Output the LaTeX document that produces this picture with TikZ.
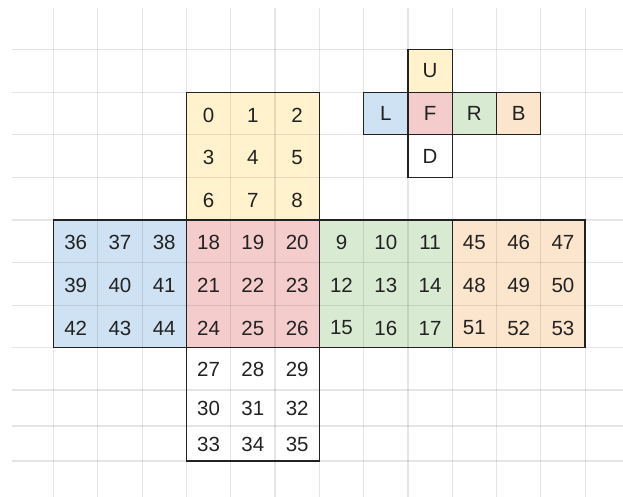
\documentclass[tikz,border=0pt]{standalone}
\usepackage{fontspec}
\setmainfont{Liberation Sans}
\definecolor{cyel}{HTML}{FFF2CC}
\definecolor{cblu}{HTML}{CFE2F3}
\definecolor{cred}{HTML}{F4CCCC}
\definecolor{cgrn}{HTML}{D9EAD3}
\definecolor{cora}{HTML}{FCE5CD}
\definecolor{ctxt}{HTML}{222222}
\tikzset{
  gridline/.style={draw=black, draw opacity=0.1, line width=1.2pt},
  faceborder/.style={draw=ctxt, line width=1.3pt},
  lab/.style={text=ctxt, font=\fontsize{20.5}{21}\selectfont, inner sep=0pt, anchor=center},
}
\begin{document}
\begin{tikzpicture}[x=1pt,y=-1pt]
\useasboundingbox (0,0) rectangle (623,497);
\fill[white] (0,0) rectangle (623,497);
% column edges: 53.5 + 44.3*k
% face fills
\fill[cyel] (186.4,92.2) rectangle (319.3,220);
\fill[cblu] (53.5,220) rectangle (186.4,347.8);
\fill[cred] (186.4,220) rectangle (319.3,347.8);
\fill[cgrn] (319.3,220) rectangle (452.2,347.8);
\fill[cora] (452.2,220) rectangle (585.1,347.8);
% small cross fills
\fill[cyel] (407.9,49.5) rectangle (452.2,92.2);
\fill[cblu] (363.6,92.2) rectangle (407.9,134.8);
\fill[cred] (407.9,92.2) rectangle (452.2,134.8);
\fill[cgrn] (452.2,92.2) rectangle (496.5,134.8);
\fill[cora] (496.5,92.2) rectangle (540.8,134.8);
% grid
\foreach \i in {0,...,12} \draw[gridline] ({53.5+44.3*\i},8) -- ({53.5+44.3*\i},497);
\foreach \y in {49.5,92.2,134.8,177.4,220,262.6,305.2,347.8,390,426,461} \draw[gridline] (12,\y) -- (623,\y);
% face borders
\draw[faceborder] (186.4,92.2) rectangle (319.3,220);
\draw[faceborder] (53.5,220) rectangle (186.4,347.8);
\draw[faceborder] (186.4,220) rectangle (319.3,347.8);
\draw[faceborder] (319.3,220) rectangle (452.2,347.8);
\draw[faceborder] (452.2,220) rectangle (585.1,347.8);
\draw[faceborder] (186.4,347.8) rectangle (319.3,461);
% small cross borders
\draw[faceborder] (407.9,49.5) rectangle (452.2,92.2);
\draw[faceborder] (363.6,92.2) rectangle (407.9,134.8);
\draw[faceborder] (407.9,92.2) rectangle (452.2,134.8);
\draw[faceborder] (452.2,92.2) rectangle (496.5,134.8);
\draw[faceborder] (496.5,92.2) rectangle (540.8,134.8);
\draw[faceborder] (407.9,134.8) rectangle (452.2,177.4);
% numbers: U face
\foreach \r/\yc in {0/115,1/157.6,2/200.2}
  \foreach \c in {0,1,2} {
    \pgfmathtruncatemacro\n{\r*3+\c}
    \node[lab] (c\n) at ({53.5+44.3*(3.5+\c)},\yc) {\n};
  }
% middle band
\foreach \b/\co in {36/0,18/3,9/6,45/9}
  \foreach \r/\yc in {0/242.8,1/285.4,2/328}
    \foreach \c in {0,1,2} {
      \pgfmathtruncatemacro\n{\b+\r*3+\c}
      \node[lab] (c\n) at ({53.5+44.3*(\co+0.5+\c)},\yc) {\n};
    }
% D face
\foreach \r/\yc in {0/369.6,1/408.7,2/444.1}
  \foreach \c in {0,1,2} {
    \pgfmathtruncatemacro\n{27+\r*3+\c}
    \node[lab] (c\n) at ({53.5+44.3*(3.5+\c)},\yc) {\n};
  }
% small cross letters
\node[lab] (sU) at (430.05,71) {U};
\node[lab] (sL) at (385.75,113.5) {L};
\node[lab] (sF) at (430.05,113.5) {F};
\node[lab] (sR) at (474.35,113.5) {R};
\node[lab] (sB) at (518.65,113.5) {B};
\node[lab] (sD) at (430.05,156.1) {D};
\end{tikzpicture}
\end{document}
